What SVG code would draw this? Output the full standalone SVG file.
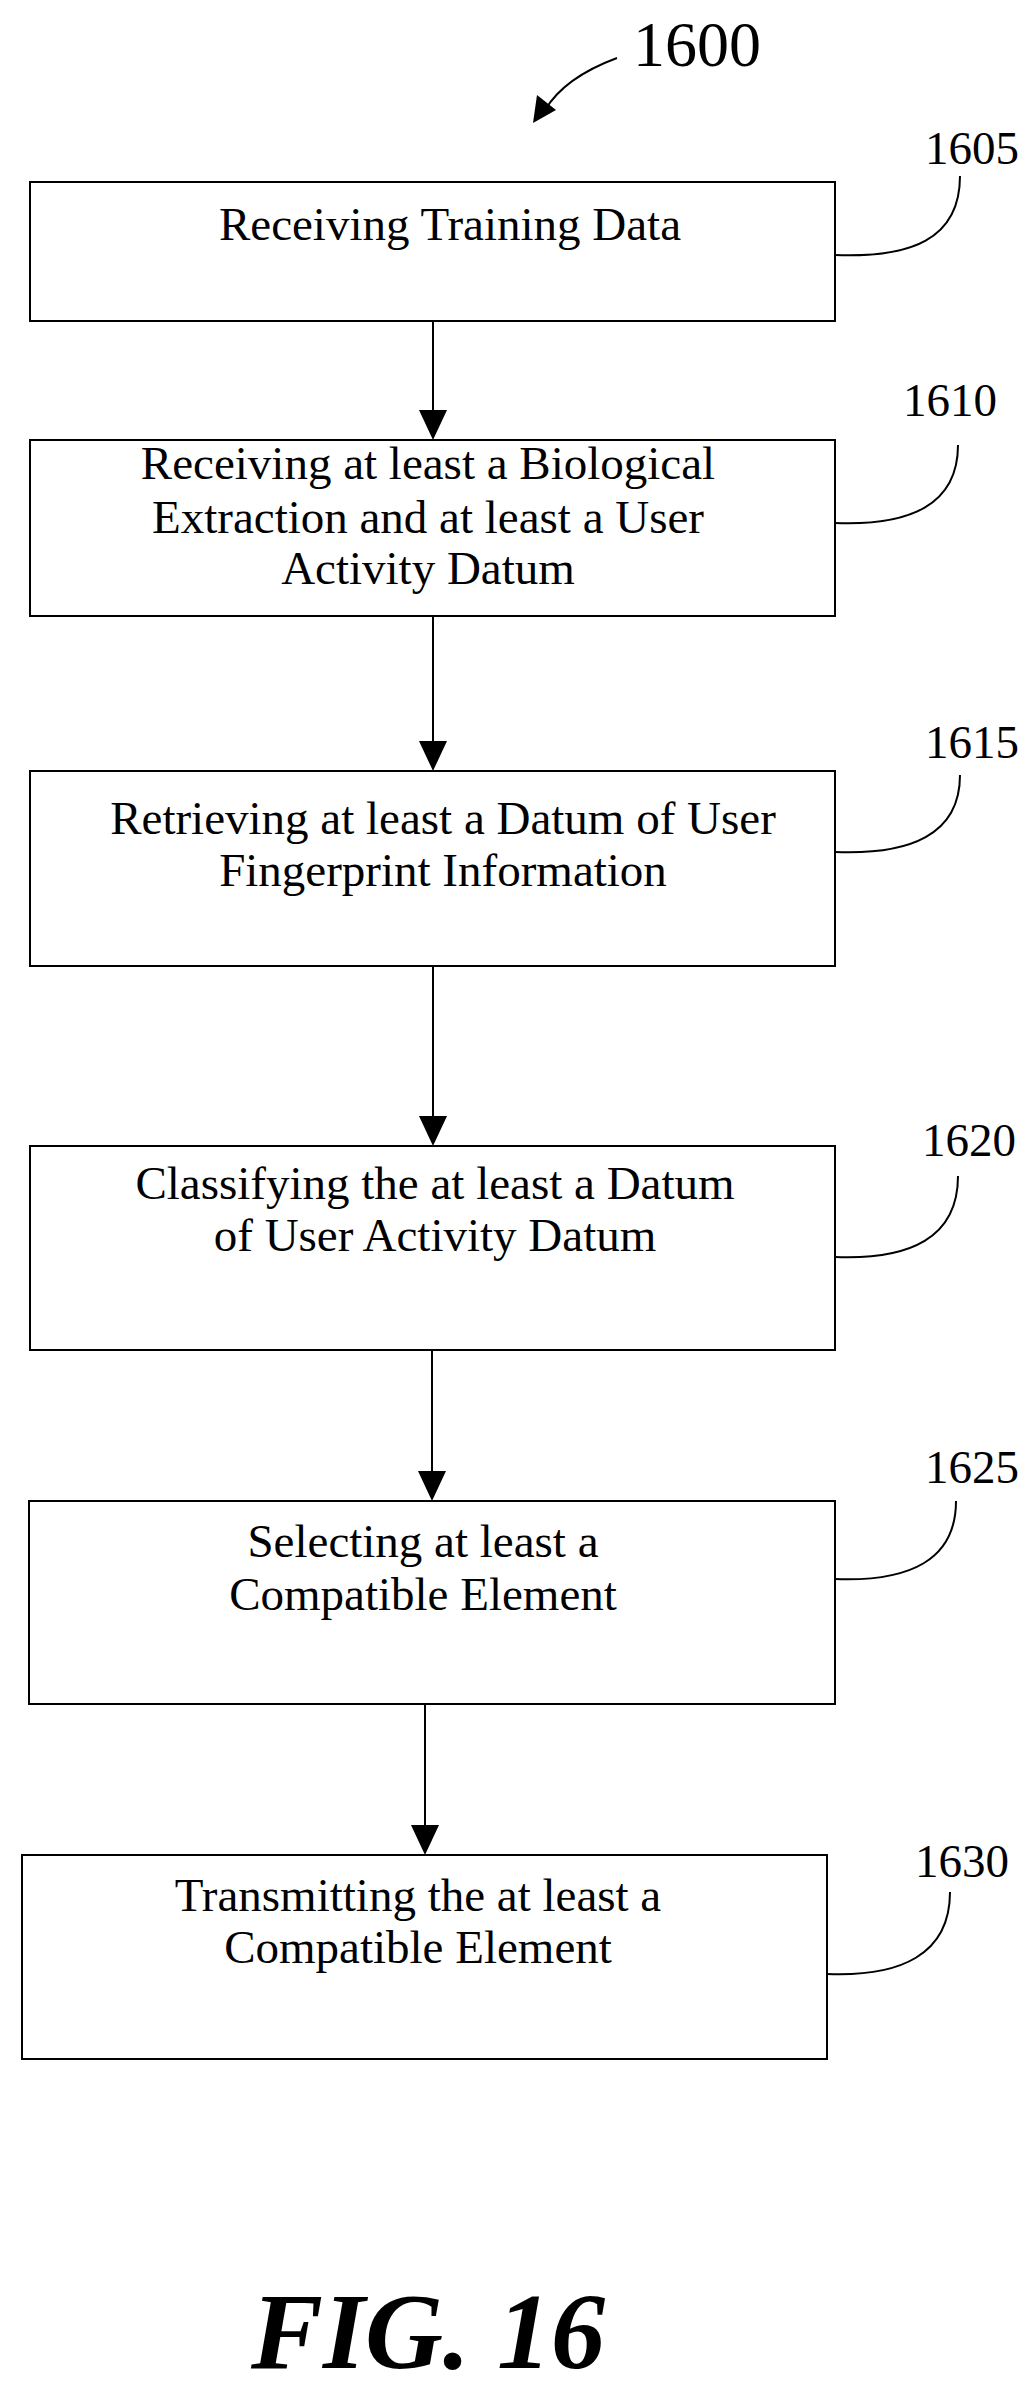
<svg xmlns="http://www.w3.org/2000/svg" width="1034" height="2395" viewBox="0 0 1034 2395">
<style>
.box{fill:#fff;stroke:#000;stroke-width:2}
.t{font-family:"Liberation Serif",serif;font-size:47px;text-anchor:middle;fill:#000}
.n{font-family:"Liberation Serif",serif;font-size:47px;fill:#000}
.c{fill:none;stroke:#000;stroke-width:2}
</style>
<rect width="1034" height="2395" fill="#fff"/>
<g id="title">
<text x="633" y="66" style="font-family:'Liberation Serif',serif;font-size:64px">1600</text>
<path class="c" d="M617,58 C590,68 560,85 545,110" stroke-width="3"/>
<path d="M533,123 L537,95 L556,110 Z" fill="#000"/>
</g>
<g id="connectors">
<line class="c" x1="433" y1="321" x2="433" y2="410"/><path d="M419,410 L447,410 L433,440 Z"/>
<line class="c" x1="433" y1="616" x2="433" y2="741"/><path d="M419,741 L447,741 L433,771 Z"/>
<line class="c" x1="433" y1="966" x2="433" y2="1116"/><path d="M419,1116 L447,1116 L433,1146 Z"/>
<line class="c" x1="432" y1="1350" x2="432" y2="1471"/><path d="M418,1471 L446,1471 L432,1501 Z"/>
<line class="c" x1="425" y1="1704" x2="425" y2="1825"/><path d="M411,1825 L439,1825 L425,1855 Z"/>
</g>
<g id="n1605">
<rect class="box" x="30" y="182" width="805" height="139"/>
<text class="t" x="450" y="240">Receiving Training Data</text>
<text class="n" x="925" y="164">1605</text>
<path class="c" d="M835,255 C910,258 960,240 960,176"/>
</g>
<g id="n1610">
<rect class="box" x="30" y="440" width="805" height="176"/>
<text class="t" x="428" y="479">Receiving at least a Biological</text>
<text class="t" x="428" y="533">Extraction and at least a User</text>
<text class="t" x="428" y="584">Activity Datum</text>
<text class="n" x="903" y="416">1610</text>
<path class="c" d="M835,523 C910,526 958,505 958,445"/>
</g>
<g id="n1615">
<rect class="box" x="30" y="771" width="805" height="195"/>
<text class="t" x="443" y="834">Retrieving at least a Datum of User</text>
<text class="t" x="443" y="886">Fingerprint Information</text>
<text class="n" x="925" y="758">1615</text>
<path class="c" d="M835,852 C910,855 960,835 960,775"/>
</g>
<g id="n1620">
<rect class="box" x="30" y="1146" width="805" height="204"/>
<text class="t" x="435" y="1199">Classifying the at least a Datum</text>
<text class="t" x="435" y="1251">of User Activity Datum</text>
<text class="n" x="922" y="1156">1620</text>
<path class="c" d="M835,1257 C910,1260 958,1238 958,1176"/>
</g>
<g id="n1625">
<rect class="box" x="29" y="1501" width="806" height="203"/>
<text class="t" x="423" y="1557">Selecting at least a</text>
<text class="t" x="423" y="1610">Compatible Element</text>
<text class="n" x="925" y="1483">1625</text>
<path class="c" d="M835,1579 C910,1582 956,1560 956,1501"/>
</g>
<g id="n1630">
<rect class="box" x="22" y="1855" width="805" height="204"/>
<text class="t" x="418" y="1911">Transmitting the at least a</text>
<text class="t" x="418" y="1963">Compatible Element</text>
<text class="n" x="915" y="1877">1630</text>
<path class="c" d="M827,1974 C900,1977 950,1955 950,1892"/>
</g>
<text x="428" y="2368" text-anchor="middle" style="font-family:'Liberation Serif',serif;font-size:108px;font-style:italic;font-weight:bold">FIG. 16</text>
</svg>
